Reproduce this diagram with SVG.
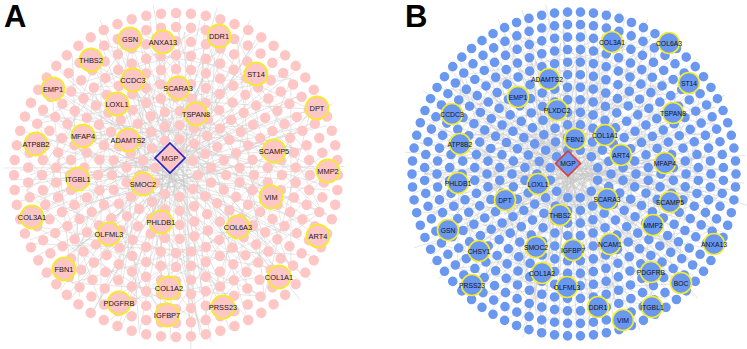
<svg xmlns="http://www.w3.org/2000/svg" xmlns:xlink="http://www.w3.org/1999/xlink" width="747" height="349" viewBox="0 0 747 349">
<defs>
<style>
.panel{font-family:"Liberation Sans",Arial,sans-serif;font-weight:bold;font-size:31px;fill:#000}
.edge{fill:none;stroke:#c9c9c9;stroke-width:0.5;opacity:0.9}
.ra{fill:none;stroke:#ffc6c6;stroke-width:10.5;stroke-linecap:round;stroke-dasharray:0 1}
.rb{fill:none;stroke:#6a98f0;stroke-width:9.6;stroke-linecap:round;stroke-dasharray:0 1}
.ba{fill:#ffc6c6;stroke:#f4ea2e;stroke-width:1.8}
.bb{fill:#6a98f0;stroke:#f4ea2e;stroke-width:1.6}
.lbl{font-family:"Liberation Sans",Arial,sans-serif;font-size:7.4px;fill:#151515;text-anchor:middle;dominant-baseline:central}
.lblb{font-family:"Liberation Sans",Arial,sans-serif;font-size:6.8px;fill:#111;text-anchor:middle;dominant-baseline:central}
</style>
<path id="web" d="M130,39L167,315M163,42L119,303M219,36L109,234M91,60L279,277M53,89L238,227M133,80L223,307M178,88L64,269M256,74L32,217M117,104L318,236M196,114L36,144M317,108L78,179M83,136L328,171M128,140L271,197M274,151L53,89M143,184L256,74M161,222L91,60M170,158L130,39M170,158L32,217M170,158L279,277M170,158L317,108M170,158L169,288M170,158L53,89M170,158L238,227M170,158L219,36M60,120L300,240M40,200L290,90M100,300L250,50M200,330L120,30M20,170L330,190M150,20L200,335M70,250L280,130M90,90L260,300M240,60L60,290M300,280L30,120M110,320L330,150M200,20L140,330M45,110L250,320M310,220L80,60M160,100L190,300M220,150L100,260M130,200L260,110M60,180L210,200M180,60L150,260M240,260L90,150M290,170L120,70M75,210L200,90M20,150L180,330M30,240L320,120M100,40L300,300M260,40L70,300M340,170L10,180M180,10L170,340M50,60L310,280M300,60L40,280M120,330L250,20M230,330L100,20M140,100L220,260M100,200L260,160M120,160L240,190M150,140L200,230M90,220L230,120M210,80L130,280M60,150L300,200M130,60L270,250M200,290L80,100M300,150L60,210"/>
<path id="star" d="M150,0L26,147.7L-141,51.3L-75,-129.9L114.9,-96.4L114.9,96.4L-75,129.9L-141,-51.3L26,-147.7ZM150,0L-75,129.9L-75,-129.9ZM114.9,96.4L-141,51.3L26,-147.7ZM26,147.7L-141,-51.3L114.9,-96.4Z"/>
</defs>
<rect width="747" height="349" fill="#fff"/>
<text class="panel" x="4" y="27">A</text>
<text class="panel" x="405" y="27">B</text>

<g id="connectors">
<use xlink:href="#web" href="#web" class="edge"/>
<use xlink:href="#web" href="#web" class="edge" transform="translate(176,175) rotate(40) translate(-176,-175)"/>
<use xlink:href="#star" href="#star" class="edge" transform="translate(176,175)"/>
<use xlink:href="#star" href="#star" class="edge" transform="translate(176,175) rotate(14)"/>
<use xlink:href="#star" href="#star" class="edge" transform="translate(176,175) rotate(27) scale(0.8)"/>
<use xlink:href="#web" href="#web" class="edge" transform="translate(398,-1)"/>
<use xlink:href="#web" href="#web" class="edge" transform="translate(574,174) rotate(-35) translate(-176,-175)"/>
<use xlink:href="#web" href="#web" class="edge" transform="translate(574,174) rotate(110) translate(-176,-175)"/>
<use xlink:href="#star" href="#star" class="edge" transform="translate(574,174) rotate(7)"/>
<use xlink:href="#star" href="#star" class="edge" transform="translate(574,174) rotate(21)"/>
<use xlink:href="#star" href="#star" class="edge" transform="translate(574,174) rotate(33) scale(0.8)"/>
</g>

<g id="a-small-nodes">
<circle class="ra" cx="176" cy="175" r="162" pathLength="68"/>
<circle class="ra" cx="176" cy="175" r="148" pathLength="62" stroke-dashoffset="0.5"/>
<circle class="ra" cx="176" cy="175" r="134" pathLength="56"/>
<circle class="ra" cx="176" cy="175" r="120" pathLength="50" stroke-dashoffset="0.5"/>
<circle class="ra" cx="176" cy="175" r="106" pathLength="44"/>
<circle class="ra" cx="176" cy="175" r="92" pathLength="38" stroke-dashoffset="0.5"/>
<circle class="ra" cx="176" cy="175" r="78" pathLength="32"/>
<circle class="ra" cx="176" cy="175" r="64" pathLength="27" stroke-dashoffset="0.5"/>
<circle class="ra" cx="176" cy="175" r="50" pathLength="21"/>
<circle class="ra" cx="176" cy="175" r="36" pathLength="15" stroke-dashoffset="0.5"/>
<circle class="ra" cx="176" cy="175" r="22" pathLength="9"/>
</g>

<g id="b-small-nodes">
<circle class="rb" cx="574" cy="174" r="162" pathLength="78"/>
<circle class="rb" cx="574" cy="174" r="149.5" pathLength="72" stroke-dashoffset="0.5"/>
<circle class="rb" cx="574" cy="174" r="137" pathLength="66"/>
<circle class="rb" cx="574" cy="174" r="124.5" pathLength="60" stroke-dashoffset="0.5"/>
<circle class="rb" cx="574" cy="174" r="112" pathLength="54"/>
<circle class="rb" cx="574" cy="174" r="99.5" pathLength="48" stroke-dashoffset="0.5"/>
<circle class="rb" cx="574" cy="174" r="87" pathLength="42"/>
<circle class="rb" cx="574" cy="174" r="74.5" pathLength="36" stroke-dashoffset="0.5"/>
<circle class="rb" cx="574" cy="174" r="62" pathLength="30"/>
<circle class="rb" cx="574" cy="174" r="49.5" pathLength="24" stroke-dashoffset="0.5"/>
<circle class="rb" cx="574" cy="174" r="37" pathLength="18"/>
<circle class="rb" cx="574" cy="174" r="24.5" pathLength="12" stroke-dashoffset="0.5"/>
</g>

<g id="a-GSN"><circle class="ba" cx="130" cy="39" r="11.5"/><text class="lbl" x="130" y="39">GSN</text></g>
<g id="a-ANXA13"><circle class="ba" cx="163" cy="42" r="11.5"/><text class="lbl" x="163" y="42">ANXA13</text></g>
<g id="a-DDR1"><circle class="ba" cx="219" cy="36" r="11.5"/><text class="lbl" x="219" y="36">DDR1</text></g>
<g id="a-THBS2"><circle class="ba" cx="91" cy="60" r="11.5"/><text class="lbl" x="91" y="60">THBS2</text></g>
<g id="a-EMP1"><circle class="ba" cx="53" cy="89" r="11.5"/><text class="lbl" x="53" y="89">EMP1</text></g>
<g id="a-CCDC3"><circle class="ba" cx="133" cy="80" r="11.5"/><text class="lbl" x="133" y="80">CCDC3</text></g>
<g id="a-SCARA3"><circle class="ba" cx="178" cy="88" r="11.5"/><text class="lbl" x="178" y="88">SCARA3</text></g>
<g id="a-ST14"><circle class="ba" cx="256" cy="74" r="11.5"/><text class="lbl" x="256" y="74">ST14</text></g>
<g id="a-LOXL1"><circle class="ba" cx="117" cy="104" r="11.5"/><text class="lbl" x="117" y="104">LOXL1</text></g>
<g id="a-TSPAN8"><circle class="ba" cx="196" cy="114" r="11.5"/><text class="lbl" x="196" y="114">TSPAN8</text></g>
<g id="a-DPT"><circle class="ba" cx="317" cy="108" r="11.5"/><text class="lbl" x="317" y="108">DPT</text></g>
<g id="a-MFAP4"><circle class="ba" cx="83" cy="136" r="11.5"/><text class="lbl" x="83" y="136">MFAP4</text></g>
<g id="a-ADAMTS2"><circle class="ba" cx="128" cy="140" r="11.5"/><text class="lbl" x="128" y="140">ADAMTS2</text></g>
<g id="a-ATP8B2"><circle class="ba" cx="36" cy="144" r="11.5"/><text class="lbl" x="36" y="144">ATP8B2</text></g>
<g id="a-SCAMP5"><circle class="ba" cx="274" cy="151" r="11.5"/><text class="lbl" x="274" y="151">SCAMP5</text></g>
<g id="a-MMP2"><circle class="ba" cx="328" cy="171" r="11.5"/><text class="lbl" x="328" y="171">MMP2</text></g>
<g id="a-ITGBL1"><circle class="ba" cx="78" cy="179" r="11.5"/><text class="lbl" x="78" y="179">ITGBL1</text></g>
<g id="a-SMOC2"><circle class="ba" cx="143" cy="184" r="11.5"/><text class="lbl" x="143" y="184">SMOC2</text></g>
<g id="a-VIM"><circle class="ba" cx="271" cy="197" r="11.5"/><text class="lbl" x="271" y="197">VIM</text></g>
<g id="a-COL3A1"><circle class="ba" cx="32" cy="217" r="11.5"/><text class="lbl" x="32" y="217">COL3A1</text></g>
<g id="a-PHLDB1"><circle class="ba" cx="161" cy="222" r="11.5"/><text class="lbl" x="161" y="222">PHLDB1</text></g>
<g id="a-COL6A3"><circle class="ba" cx="238" cy="227" r="11.5"/><text class="lbl" x="238" y="227">COL6A3</text></g>
<g id="a-OLFML3"><circle class="ba" cx="109" cy="234" r="11.5"/><text class="lbl" x="109" y="234">OLFML3</text></g>
<g id="a-ART4"><circle class="ba" cx="318" cy="236" r="11.5"/><text class="lbl" x="318" y="236">ART4</text></g>
<g id="a-FBN1"><circle class="ba" cx="64" cy="269" r="11.5"/><text class="lbl" x="64" y="269">FBN1</text></g>
<g id="a-COL1A1"><circle class="ba" cx="279" cy="277" r="11.5"/><text class="lbl" x="279" y="277">COL1A1</text></g>
<g id="a-COL1A2"><circle class="ba" cx="169" cy="288" r="11.5"/><text class="lbl" x="169" y="288">COL1A2</text></g>
<g id="a-PDGFRB"><circle class="ba" cx="119" cy="303" r="11.5"/><text class="lbl" x="119" y="303">PDGFRB</text></g>
<g id="a-PRSS23"><circle class="ba" cx="223" cy="307" r="11.5"/><text class="lbl" x="223" y="307">PRSS23</text></g>
<g id="a-IGFBP7"><circle class="ba" cx="167" cy="315" r="11.5"/><text class="lbl" x="167" y="315">IGFBP7</text></g>
<g id="a-MGP"><polygon points="170,143 185,158 170,173 155,158" fill="#ffc6c6" stroke="#1f1fc8" stroke-width="1.6"/><text class="lbl" x="170" y="158">MGP</text></g>

<g id="b-COL3A1"><circle class="bb" cx="612" cy="42" r="10.5"/><text class="lblb" x="612" y="42">COL3A1</text></g>
<g id="b-COL6A3"><circle class="bb" cx="669" cy="43" r="10.5"/><text class="lblb" x="669" y="43">COL6A3</text></g>
<g id="b-ADAMTS2"><circle class="bb" cx="549" cy="79" r="10.5"/><text class="lblb" x="547" y="79">ADAMTS2</text></g>
<g id="b-ST14"><circle class="bb" cx="689" cy="83" r="10.5"/><text class="lblb" x="689" y="83">ST14</text></g>
<g id="b-EMP1"><circle class="bb" cx="518" cy="97" r="10.5"/><text class="lblb" x="518" y="97">EMP1</text></g>
<g id="b-PLXDC2"><circle class="bb" cx="557" cy="110" r="10.5"/><text class="lblb" x="557" y="110">PLXDC2</text></g>
<g id="b-CCDC3"><circle class="bb" cx="452" cy="114" r="10.5"/><text class="lblb" x="452" y="114">CCDC3</text></g>
<g id="b-TSPAN8"><circle class="bb" cx="673" cy="113" r="10.5"/><text class="lblb" x="673" y="113">TSPAN8</text></g>
<g id="b-FBN1"><circle class="bb" cx="575" cy="139" r="10.5"/><text class="lblb" x="575" y="139">FBN1</text></g>
<g id="b-COL1A1"><circle class="bb" cx="605" cy="135" r="10.5"/><text class="lblb" x="605" y="135">COL1A1</text></g>
<g id="b-ATP8B2"><circle class="bb" cx="460" cy="144" r="10.5"/><text class="lblb" x="460" y="144">ATP8B2</text></g>
<g id="b-ART4"><circle class="bb" cx="621" cy="155" r="10.5"/><text class="lblb" x="621" y="155">ART4</text></g>
<g id="b-MFAP4"><circle class="bb" cx="665" cy="163" r="10.5"/><text class="lblb" x="665" y="163">MFAP4</text></g>
<g id="b-PHLDB1"><circle class="bb" cx="458" cy="183" r="10.5"/><text class="lblb" x="458" y="183">PHLDB1</text></g>
<g id="b-LOXL1"><circle class="bb" cx="538" cy="184" r="10.5"/><text class="lblb" x="538" y="184">LOXL1</text></g>
<g id="b-SCARA3"><circle class="bb" cx="607" cy="199" r="10.5"/><text class="lblb" x="607" y="199">SCARA3</text></g>
<g id="b-DPT"><circle class="bb" cx="505" cy="200" r="10.5"/><text class="lblb" x="505" y="200">DPT</text></g>
<g id="b-SCAMP5"><circle class="bb" cx="670" cy="202" r="10.5"/><text class="lblb" x="670" y="202">SCAMP5</text></g>
<g id="b-THBS2"><circle class="bb" cx="560" cy="215" r="10.5"/><text class="lblb" x="560" y="215">THBS2</text></g>
<g id="b-MMP2"><circle class="bb" cx="653" cy="225" r="10.5"/><text class="lblb" x="653" y="225">MMP2</text></g>
<g id="b-GSN"><circle class="bb" cx="448" cy="230" r="10.5"/><text class="lblb" x="448" y="230">GSN</text></g>
<g id="b-NCAM1"><circle class="bb" cx="610" cy="244" r="10.5"/><text class="lblb" x="610" y="244">NCAM1</text></g>
<g id="b-ANXA13"><circle class="bb" cx="714" cy="244" r="10.5"/><text class="lblb" x="714" y="244">ANXA13</text></g>
<g id="b-SMOC2"><circle class="bb" cx="536" cy="247" r="10.5"/><text class="lblb" x="536" y="247">SMOC2</text></g>
<g id="b-IGFBP7"><circle class="bb" cx="573" cy="250" r="10.5"/><text class="lblb" x="573" y="250">IGFBP7</text></g>
<g id="b-CHSY1"><circle class="bb" cx="479" cy="251" r="10.5"/><text class="lblb" x="479" y="251">CHSY1</text></g>
<g id="b-PDGFRB"><circle class="bb" cx="651" cy="272" r="10.5"/><text class="lblb" x="651" y="272">PDGFRB</text></g>
<g id="b-COL1A2"><circle class="bb" cx="542" cy="273" r="10.5"/><text class="lblb" x="542" y="273">COL1A2</text></g>
<g id="b-BOC"><circle class="bb" cx="681" cy="283" r="10.5"/><text class="lblb" x="681" y="283">BOC</text></g>
<g id="b-PRSS23"><circle class="bb" cx="472" cy="285" r="10.5"/><text class="lblb" x="472" y="285">PRSS23</text></g>
<g id="b-OLFML3"><circle class="bb" cx="567" cy="287" r="10.5"/><text class="lblb" x="567" y="287">OLFML3</text></g>
<g id="b-DDR1"><circle class="bb" cx="598" cy="307" r="10.5"/><text class="lblb" x="598" y="307">DDR1</text></g>
<g id="b-ITGBL1"><circle class="bb" cx="652" cy="307" r="10.5"/><text class="lblb" x="652" y="307">ITGBL1</text></g>
<g id="b-VIM"><circle class="bb" cx="623" cy="320" r="10.5"/><text class="lblb" x="623" y="320">VIM</text></g>
<g id="b-MGP"><polygon points="568,151 580.5,163.5 568,176 555.5,163.5" fill="#6a98f0" stroke="#e23a3a" stroke-width="1.6"/><text class="lblb" x="568" y="163.5">MGP</text></g>
</svg>
